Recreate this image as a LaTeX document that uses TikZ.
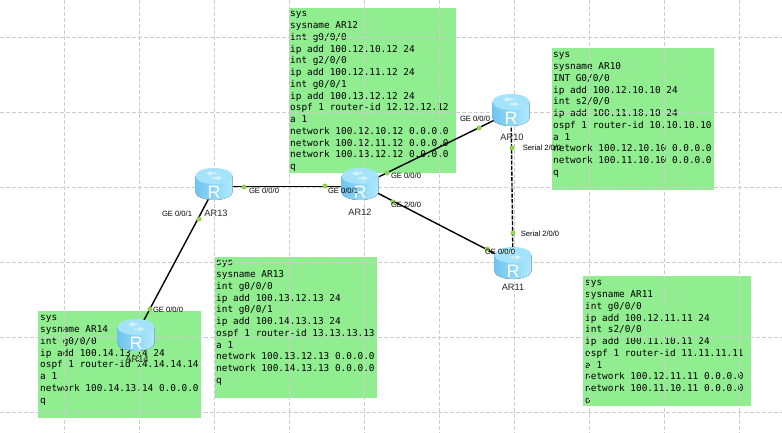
\documentclass[tikz,border=0pt]{standalone}
\usepackage{fontspec}
\usetikzlibrary{calc}
\setmainfont{Liberation Sans}
\setmonofont{DejaVu Sans Mono}
\definecolor{cfggreen}{HTML}{90EE90}
\definecolor{gridgrey}{HTML}{CDCDCD}
\definecolor{portgreen}{HTML}{8FD14F}
\definecolor{rtop}{HTML}{A5E3FA}
\definecolor{rbodyl}{HTML}{6FC4F0}
\definecolor{rbodym}{HTML}{8FD8F8}
\definecolor{rbodyr}{HTML}{B0EAFD}
\tikzset{
  cfgbox/.style={fill=cfggreen,draw=none,anchor=north west,inner sep=0pt},
  cfgtext/.style={anchor=north west,inner sep=0pt,align=left,font=\ttfamily\fontsize{9.4}{11.75}\selectfont,text=black},
  gridline/.style={draw=gridgrey,line width=0.8pt,dash pattern=on 4pt off 2pt},
  link/.style={draw=black,line width=1.4pt},
  seriallink/.style={link,dash pattern=on 4pt off 1.5pt},
  portdot/.style={circle,fill=portgreen,draw=none,minimum size=5pt,inner sep=0pt},
  portlabel/.style={inner sep=0pt,font=\fontsize{7.6}{8}\selectfont,text=black},
  routerlabel/.style={inner sep=0pt,font=\fontsize{9.2}{10}\selectfont,text=black!85},
  routeranchor/.style={circle,minimum size=2pt,inner sep=0pt,draw=none},
}
\newcommand{\drawrouter}[1]{%
  \begin{scope}[shift={(#1)}]
    \fill[left color=rbodyl,middle color=rbodym,right color=rbodyr] (-18.5,-8) -- (-18.5,8) arc[start angle=180,end angle=0,x radius=18.5,y radius=8] -- (18.5,-8) -- cycle;
    \fill[rtop] (0,-8) ellipse[x radius=18.5,y radius=8];
    \fill[white,opacity=.55] (-8,-10.5) -- (-3,-13) -- (-3,-11.6) -- (2,-11.6) -- (2,-9.8) -- (-3,-9.8) -- (-3,-8.2) -- cycle;
    \fill[white,opacity=.55] (8,-6) -- (3,-3.5) -- (3,-4.9) -- (-2,-4.9) -- (-2,-6.5) -- (3,-6.5) -- (3,-8.3) -- cycle;
    \node[text=white,inner sep=0pt,font=\fontsize{18}{20}\selectfont] at (0,8) {R};
  \end{scope}}
\begin{document}
\begin{tikzpicture}[x=1pt,y=-1pt]
\useasboundingbox (0,0) rectangle (782,433);
\fill[white] (0,0) rectangle (782,433);
% configuration panels
\node[cfgbox,minimum width=167pt,minimum height=165pt] (p12) at (289,8) {};
\node[cfgtext] (t12) at (290,11.5) {sys\\sysname AR12\\int g0/0/0\\ip add 100.12.10.12 24\\int g2/0/0\\ip add 100.12.11.12 24\\int g0/0/1\\ip add 100.13.12.12 24\\ospf 1 router-id 12.12.12.12\\a 1\\network 100.12.10.12 0.0.0.0\\network 100.12.11.12 0.0.0.0\\network 100.13.12.12 0.0.0.0\\q};
\node[cfgbox,minimum width=162pt,minimum height=142pt] (p10) at (552,48) {};
\node[cfgtext] (t10) at (553,52.5) {sys\\sysname AR10\\INT G0/0/0\\ip add 100.12.10.10 24\\int s2/0/0\\ip add 100.11.10.10 24\\ospf 1 router-id 10.10.10.10\\a 1\\network 100.12.10.10 0.0.0.0\\network 100.11.10.10 0.0.0.0\\q};
\node[cfgbox,minimum width=163pt,minimum height=107pt] (p14) at (38,311) {};
\node[cfgtext] (t14) at (40,315.5) {sys\\sysname AR14\\int g0/0/0\\ip add 100.14.13.14 24\\ospf 1 router-id 14.14.14.14\\a 1\\network 100.14.13.14 0.0.0.0\\q};
\node[cfgbox,minimum width=162pt,minimum height=141pt] (p13) at (215,257) {};
\node[cfgtext] (t13) at (216,260.5) {sys\\sysname AR13\\int g0/0/0\\ip add 100.13.12.13 24\\int g0/0/1\\ip add 100.14.13.13 24\\ospf 1 router-id 13.13.13.13\\a 1\\network 100.13.12.13 0.0.0.0\\network 100.14.13.13 0.0.0.0\\q};
\node[cfgbox,minimum width=168pt,minimum height=130pt] (p11) at (583,276) {};
\node[cfgtext] (t11) at (585,280.5) {sys\\sysname AR11\\int g0/0/0\\ip add 100.12.11.11 24\\int s2/0/0\\ip add 100.11.10.11 24\\ospf 1 router-id 11.11.11.11\\a 1\\network 100.12.11.11 0.0.0.0\\network 100.11.10.11 0.0.0.0\\q};
% grid
\foreach \gx in {64,139,...,739} \draw[gridline] (\gx,0) -- (\gx,433);
\foreach \gy in {37,112,...,412} \draw[gridline] (0,\gy) -- (782,\gy);
% router positions
\node[routeranchor] (ar10) at (511,110) {};
\node[routeranchor] (ar11) at (513,263) {};
\node[routeranchor] (ar12) at (360,184) {};
\node[routeranchor] (ar13) at (214,184) {};
\node[routeranchor] (ar14) at (136,335) {};
% links
\draw[link] ($(ar12)+(0,2)$) -- ($(ar10)+(0,2)$);
\draw[link] (ar12) -- (ar11);
\draw[link] ($(ar13)+(0,2.5)$) -- ($(ar12)+(0,2.5)$);
\draw[link] (ar14) -- ($(ar13)+(2.5,0)$);
\draw[seriallink] (ar10) -- (ar11);
% routers
\drawrouter{ar10}\drawrouter{ar11}\drawrouter{ar12}\drawrouter{ar13}\drawrouter{ar14}
% port dots
\node[portdot] (d1) at (479,128) {};
\node[portdot] (d2) at (387,173) {};
\node[portdot] (d3) at (244,187) {};
\node[portdot] (d4) at (325,186) {};
\node[portdot] (d5) at (199,219) {};
\node[portdot] (d6) at (150,309) {};
\node[portdot] (d7) at (393,202) {};
\node[portdot] (d8) at (487,249) {};
\node[portdot] (d9) at (512,148) {};
\node[portdot] (d10) at (513,233) {};
% port labels
\node[portlabel] (l1) at (475,119) {GE 0/0/0};
\node[portlabel] (l2) at (406,176) {GE 0/0/0};
\node[portlabel] (l3) at (264,191) {GE 0/0/0};
\node[portlabel] (l4) at (343,191) {GE 0/0/1};
\node[portlabel] (l5) at (177,214) {GE 0/0/1};
\node[portlabel] (l6) at (406,205) {GE 2/0/0};
\node[portlabel] (l7) at (500,252) {GE 0/0/0};
\node[portlabel] (l8) at (542,148) {Serial 2/0/0};
\node[portlabel] (l9) at (540,234) {Serial 2/0/0};
\node[portlabel] (l10) at (168,310) {GE 0/0/0};
% router labels
\node[routerlabel] (n13) at (216,213) {AR13};
\node[routerlabel] (n12) at (360,212) {AR12};
\node[routerlabel] (n10) at (512,137) {AR10};
\node[routerlabel] (n11) at (513,287) {AR11};
\node[routerlabel] (n14) at (137,359) {AR14};
\end{tikzpicture}
\end{document}
